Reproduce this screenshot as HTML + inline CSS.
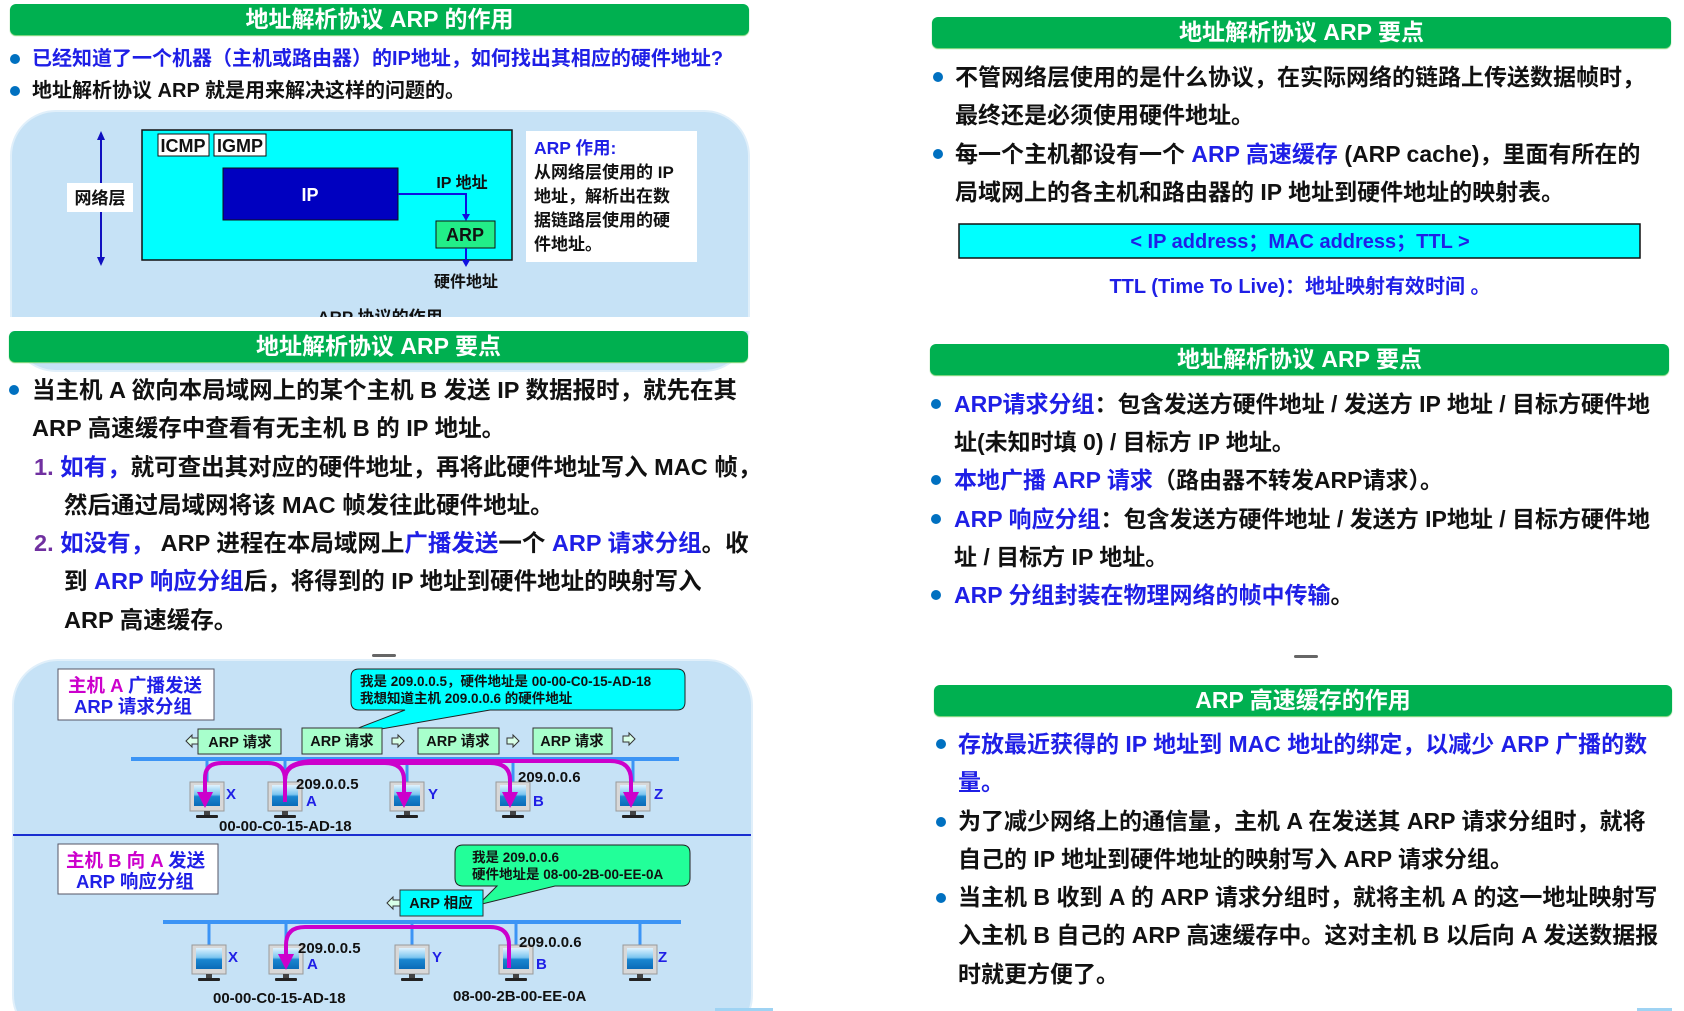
<!DOCTYPE html>
<html><head><meta charset="utf-8">
<style>
*{margin:0;padding:0;box-sizing:border-box}
body{width:1684px;height:1011px;background:#fff;position:relative;overflow:hidden;font-family:"Liberation Sans","Noto Sans CJK SC",sans-serif;font-weight:bold;color:#111}
.hd{position:absolute;background:#00b050;border-radius:6px;color:#fff;text-align:center;font-size:23px;line-height:31px;box-shadow:0 1px 1px #6c6}
.blk{position:absolute;white-space:nowrap}
.dot{position:absolute;width:10px;height:10px;border-radius:50%;background:#0070c0}
.b{color:#1f1fe6}
.p{color:#7030a0}
svg text{font-family:"Liberation Sans","Noto Sans CJK SC",sans-serif;font-weight:bold}
</style></head><body>

<svg width="1684" height="1011" style="position:absolute;left:0;top:0">
<defs>
<linearGradient id="scr" x1="0" y1="0" x2="0" y2="1">
<stop offset="0" stop-color="#dff3ff"/><stop offset="0.45" stop-color="#7cc6f0"/><stop offset="0.55" stop-color="#1a86d0"/><stop offset="1" stop-color="#0a6bb8"/></linearGradient>
<g id="pc">
<rect x="-17" y="0" width="34" height="29" fill="#d8d8d8" stroke="#999" stroke-width="1"/>
<rect x="-13" y="3" width="26" height="21" fill="url(#scr)"/>
<rect x="-3" y="29" width="6" height="4" fill="#444"/>
<rect x="-11" y="33" width="22" height="3" rx="1" fill="#222"/>
</g>
<marker id="ah" markerWidth="4" markerHeight="4" refX="2" refY="2" orient="auto" markerUnits="strokeWidth"><path d="M0,0 L4,2 L0,4 Z" fill="#cc00cc"/></marker>
</defs>

<!-- panel 1 -->
<rect x="11" y="111" width="738" height="260" rx="45" fill="#c6e2f6" stroke="#e0effa" stroke-width="2"/>
<line x1="101" y1="133" x2="101" y2="264" stroke="#1010c0" stroke-width="2"/>
<path d="M97,140 L101,131 L105,140Z M97,257 L101,266 L105,257Z" fill="#1010c0"/>
<rect x="67" y="183" width="66" height="29" fill="#fff"/>
<text x="100" y="204" font-size="17" text-anchor="middle" fill="#111">网络层</text>
<rect x="142" y="130" width="370" height="130" fill="#00ffff" stroke="#111" stroke-width="1.5"/>
<rect x="158" y="134" width="51" height="22" fill="#fff" stroke="#111"/>
<text x="183" y="152" font-size="18" text-anchor="middle" fill="#111">ICMP</text>
<rect x="214" y="134" width="52" height="22" fill="#fff" stroke="#111"/>
<text x="240" y="152" font-size="18" text-anchor="middle" fill="#111">IGMP</text>
<rect x="223" y="168" width="175" height="52" fill="#0000c0" stroke="#111"/>
<text x="310" y="201" font-size="18" text-anchor="middle" fill="#fff">IP</text>
<polyline points="398,194 466,194 466,216" fill="none" stroke="#1010e0" stroke-width="2"/>
<path d="M462,214 L466,221 L470,214Z" fill="#1010e0"/>
<text x="462" y="188" font-size="16" text-anchor="middle" fill="#111">IP 地址</text>
<rect x="436" y="221" width="59" height="27" fill="#22ee88" stroke="#111"/>
<text x="465" y="241" font-size="18" text-anchor="middle" fill="#111">ARP</text>
<line x1="466" y1="248" x2="466" y2="262" stroke="#1010e0" stroke-width="2"/>
<path d="M462,260 L466,267 L470,260Z" fill="#1010e0"/>
<text x="466" y="287" font-size="16" text-anchor="middle" fill="#111">硬件地址</text>
<rect x="526" y="131" width="171" height="131" fill="#fff"/>
<text x="534" y="154" font-size="17.5" fill="#1f1fe6">ARP 作用:</text>
<text font-size="17" fill="#111"><tspan x="534" y="178">从网络层使用的 IP</tspan><tspan x="534" y="202">地址，解析出在数</tspan><tspan x="534" y="226">据链路层使用的硬</tspan><tspan x="534" y="250">件地址。</tspan></text>
<text x="380" y="323" font-size="17" text-anchor="middle" fill="#111">ARP 协议的作用</text>
<rect x="0" y="317" width="760" height="14" fill="#fff"/>

<!-- small dashes -->
<rect x="372" y="654" width="24" height="3" rx="1.5" fill="#666"/>
<rect x="1294" y="655" width="24" height="3" rx="1.5" fill="#666"/>

<!-- panel 2 -->
<rect x="13" y="660" width="739" height="380" rx="45" fill="#c6e2f6" stroke="#e0effa" stroke-width="2"/>
<rect x="58" y="669" width="156" height="51" fill="#fff" stroke="#556" stroke-width="1"/>
<text x="68" y="692" font-size="18.5"><tspan fill="#cc00cc">主机 A </tspan><tspan fill="#1f1fe6">广播发送</tspan></text>
<text x="74" y="713" font-size="18.5" fill="#1f1fe6">ARP 请求分组</text>
<path d="M359,669 H677 Q685,669 685,677 V702 Q685,710 677,710 H490 L335,737 L405,710 H359 Q351,710 351,702 V677 Q351,669 359,669Z" fill="#00ffff" stroke="#222" stroke-width="1"/>
<text font-size="13.5" fill="#111"><tspan x="360" y="686">我是 209.0.0.5，硬件地址是 00-00-C0-15-AD-18</tspan><tspan x="360" y="703">我想知道主机 209.0.0.6 的硬件地址</tspan></text>
<g font-size="14.5" fill="#111" stroke="#333" stroke-width="1">
<rect x="198" y="729" width="83" height="25" fill="#a8ffcc"/>
<rect x="302" y="728" width="80" height="26" fill="#a8ffcc"/>
<rect x="418" y="728" width="81" height="26" fill="#a8ffcc"/>
<rect x="533" y="728" width="79" height="26" fill="#a8ffcc"/>
</g>
<g font-size="14.5" fill="#111" text-anchor="middle">
<text x="240" y="747">ARP 请求</text><text x="342" y="746">ARP 请求</text><text x="458" y="746">ARP 请求</text><text x="572" y="746">ARP 请求</text>
</g>
<g fill="#d8ffe8" stroke="#333" stroke-width="1">
<path d="M186,741 L192,735 V738 H198 V744 H192 V747Z"/>
<path d="M404,741 L398,735 V738 H392 V744 H398 V747Z"/>
<path d="M519,741 L513,735 V738 H507 V744 H513 V747Z"/>
<path d="M635,739 L629,733 V736 H623 V742 H629 V745Z"/>
</g>
<line x1="131" y1="759" x2="679" y2="759" stroke="#3c94f5" stroke-width="4"/>
<g stroke="#3c94f5" stroke-width="3">
<line x1="207" y1="759" x2="207" y2="783"/><line x1="285" y1="759" x2="285" y2="783"/><line x1="407" y1="759" x2="407" y2="783"/><line x1="513" y1="759" x2="513" y2="783"/><line x1="633" y1="759" x2="633" y2="783"/>
</g>
<use href="#pc" x="207" y="782"/><use href="#pc" x="285" y="782"/><use href="#pc" x="407" y="782"/><use href="#pc" x="513" y="782"/><use href="#pc" x="633" y="782"/>
<g fill="none" stroke="#cc00cc" stroke-width="4">
<path d="M285,802 V780 Q285,763 268,763 H222 Q205,763 205,778 V800" marker-end="url(#ah)"/>
<path d="M285,800 V780 Q285,763 305,763 H385 Q404,763 404,780 V800" marker-end="url(#ah)"/>
<path d="M285,800 V780 Q285,763 310,763 H490 Q510,763 510,780 V800" marker-end="url(#ah)"/>
<path d="M285,800 V780 Q285,761 315,761 H610 Q631,761 631,780 V800" marker-end="url(#ah)"/>
</g>
<g font-size="15" fill="#1f1fe6">
<text x="226" y="799">X</text><text x="306" y="806">A</text><text x="428" y="799">Y</text><text x="533" y="806">B</text><text x="654" y="799">Z</text>
</g>
<g font-size="15" fill="#111">
<text x="296" y="789">209.0.0.5</text><text x="518" y="782">209.0.0.6</text><text x="219" y="831">00-00-C0-15-AD-18</text>
</g>
<line x1="13" y1="835" x2="751" y2="835" stroke="#1a2ed0" stroke-width="2"/>

<rect x="58" y="844" width="160" height="50" fill="#fff" stroke="#556" stroke-width="1"/>
<text x="66" y="867" font-size="18.5"><tspan fill="#cc00cc">主机 B 向 A </tspan><tspan fill="#1f1fe6">发送</tspan></text>
<text x="76" y="888" font-size="18.5" fill="#1f1fe6">ARP 响应分组</text>
<path d="M463,845 H682 Q690,845 690,853 V878 Q690,886 682,886 H555 L478,905 L497,886 H463 Q455,886 455,878 V853 Q455,845 463,845Z" fill="#22ff99" stroke="#222" stroke-width="1"/>
<text font-size="13.5" fill="#111"><tspan x="472" y="862">我是 209.0.0.6</tspan><tspan x="472" y="879">硬件地址是 08-00-2B-00-EE-0A</tspan></text>
<rect x="400" y="890" width="83" height="26" fill="#00ffff" stroke="#333"/>
<text x="441" y="908" font-size="14.5" text-anchor="middle" fill="#111">ARP 相应</text>
<path d="M387,903 L393,897 V900 H400 V906 H393 V909Z" fill="#d8ffe8" stroke="#333"/>
<line x1="163" y1="922" x2="681" y2="922" stroke="#3c94f5" stroke-width="4"/>
<g stroke="#3c94f5" stroke-width="3">
<line x1="209" y1="922" x2="209" y2="946"/><line x1="286" y1="922" x2="286" y2="946"/><line x1="412" y1="922" x2="412" y2="946"/><line x1="516" y1="922" x2="516" y2="946"/><line x1="640" y1="922" x2="640" y2="946"/>
</g>
<use href="#pc" x="209" y="945"/><use href="#pc" x="286" y="945"/><use href="#pc" x="412" y="945"/><use href="#pc" x="516" y="945"/><use href="#pc" x="640" y="945"/>
<path d="M509,968 V945 Q509,927 490,927 H305 Q286,927 286,945 V962" fill="none" stroke="#cc00cc" stroke-width="4" marker-end="url(#ah)"/>
<g font-size="15" fill="#1f1fe6">
<text x="228" y="962">X</text><text x="307" y="969">A</text><text x="432" y="962">Y</text><text x="536" y="969">B</text><text x="658" y="962">Z</text>
</g>
<g font-size="15" fill="#111">
<text x="298" y="953">209.0.0.5</text><text x="519" y="947">209.0.0.6</text><text x="213" y="1003">00-00-C0-15-AD-18</text><text x="453" y="1001">08-00-2B-00-EE-0A</text>
</g>
<rect x="715" y="1008" width="58" height="3" fill="#9fd3f3"/>
<rect x="1637" y="1008" width="35" height="3" fill="#9fd3f3"/>

<!-- cyan box right -->
<rect x="959" y="224" width="681" height="34" fill="#00ffff" stroke="#111" stroke-width="1.5"/>
<text x="1300" y="248" font-size="20" text-anchor="middle" fill="#1f1fe6">&lt; IP address；MAC address；TTL &gt;</text>
<text x="1300" y="293" font-size="20" text-anchor="middle" fill="#1f1fe6">TTL (Time To Live)：地址映射有效时间 。</text>
</svg>

<!-- headers -->
<div class="hd" style="left:10px;top:4px;width:739px;height:31px">地址解析协议 ARP 的作用</div>
<div class="hd" style="left:9px;top:331px;width:739px;height:31px">地址解析协议 ARP 要点</div>
<div class="hd" style="left:932px;top:17px;width:739px;height:31px">地址解析协议 ARP 要点</div>
<div class="hd" style="left:930px;top:344px;width:739px;height:31px">地址解析协议 ARP 要点</div>
<div class="hd" style="left:934px;top:685px;width:738px;height:31px">ARP 高速缓存的作用</div>

<!-- top-left bullets -->
<div class="dot" style="left:10px;top:54px"></div>
<div class="blk b" style="left:32px;top:45px;font-size:20px;line-height:28px">已经知道了一个机器（主机或路由器）的IP地址，如何找出其相应的硬件地址?</div>
<div class="dot" style="left:10px;top:86px"></div>
<div class="blk" style="left:32px;top:77px;font-size:20px;line-height:28px">地址解析协议 ARP 就是用来解决这样的问题的。</div>

<!-- left section 2 -->
<div class="dot" style="left:9px;top:385px"></div>
<div class="blk" style="left:32px;top:371px;font-size:23.5px;line-height:38.3px">
当主机 A 欲向本局域网上的某个主机 B 发送 IP 数据报时，就先在其<br>
ARP 高速缓存中查看有无主机 B 的 IP 地址。<br>
<span style="margin-left:2px" class="p">1.</span> <span class="b">如有，</span>就可查出其对应的硬件地址，再将此硬件地址写入 MAC 帧，<br>
<span style="margin-left:32px"></span>然后通过局域网将该 MAC 帧发往此硬件地址。<br>
<span style="margin-left:2px" class="p">2.</span> <span class="b">如没有，</span> ARP 进程在本局域网上<span class="b">广播发送</span>一个 <span class="b">ARP 请求分组</span>。收<br>
<span style="margin-left:32px"></span>到 <span class="b">ARP 响应分组</span>后，将得到的 IP 地址到硬件地址的映射写入<br>
<span style="margin-left:32px"></span>ARP 高速缓存。</div>

<!-- right R1 -->
<div class="dot" style="left:933px;top:72px"></div>
<div class="dot" style="left:933px;top:149px"></div>
<div class="blk" style="left:955px;top:58px;font-size:23px;line-height:38.3px">
不管网络层使用的是什么协议，在实际网络的链路上传送数据帧时，<br>
最终还是必须使用硬件地址。<br>
每一个主机都设有一个 <span class="b">ARP 高速缓存</span> (ARP cache)，里面有所在的<br>
局域网上的各主机和路由器的 IP 地址到硬件地址的映射表。</div>

<!-- right R2 -->
<div class="dot" style="left:931px;top:399px"></div>
<div class="dot" style="left:931px;top:475px"></div>
<div class="dot" style="left:931px;top:514px"></div>
<div class="dot" style="left:931px;top:590px"></div>
<div class="blk" style="left:954px;top:385px;font-size:23px;line-height:38.2px">
<span class="b">ARP请求分组</span>：包含发送方硬件地址 / 发送方 IP 地址 / 目标方硬件地<br>
址(未知时填 0) / 目标方 IP 地址。<br>
<span class="b">本地广播 ARP 请求</span>（路由器不转发ARP请求）。<br>
<span class="b">ARP 响应分组</span>：包含发送方硬件地址 / 发送方 IP地址 / 目标方硬件地<br>
址 / 目标方 IP 地址。<br>
<span class="b">ARP 分组封装在物理网络的帧中传输</span>。</div>

<!-- right R3 -->
<div class="dot" style="left:936px;top:739px"></div>
<div class="dot" style="left:936px;top:817px"></div>
<div class="dot" style="left:936px;top:893px"></div>
<div class="blk" style="left:958px;top:725px;font-size:23px;line-height:38.3px">
<span class="b">存放最近获得的 IP 地址到 MAC 地址的绑定，以减少 ARP 广播的数</span><br>
<span class="b">量。</span><br>
为了减少网络上的通信量，主机 A 在发送其 ARP 请求分组时，就将<br>
自己的 IP 地址到硬件地址的映射写入 ARP 请求分组。<br>
当主机 B 收到 A 的 ARP 请求分组时，就将主机 A 的这一地址映射写<br>
入主机 B 自己的 ARP 高速缓存中。这对主机 B 以后向 A 发送数据报<br>
时就更方便了。</div>
</body></html>
